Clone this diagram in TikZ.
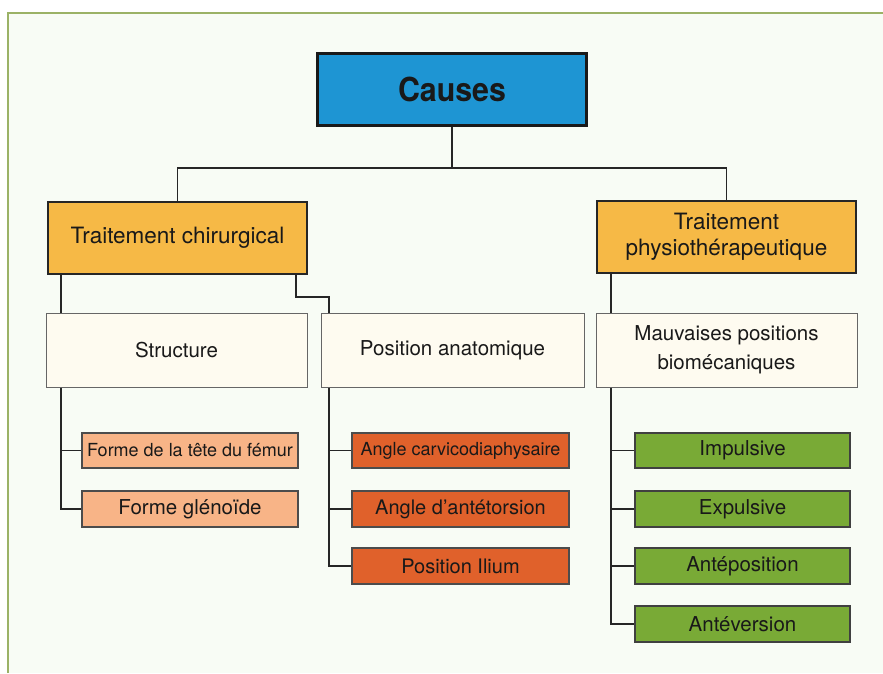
\documentclass[tikz,border=0pt]{standalone}
\usepackage{fontspec}
\setmainfont{TeX Gyre Heros}
\newfontfamily\causefont[FakeStretch=0.92]{TeX Gyre Heros}

\definecolor{causeblue}{HTML}{1E95D3}
\definecolor{headorange}{HTML}{F6B946}
\definecolor{catcream}{HTML}{FEFBF0}
\definecolor{formsalmon}{HTML}{F8B487}
\definecolor{angleorange}{HTML}{E0612B}
\definecolor{mauvgreen}{HTML}{79AA36}
\definecolor{framegreen}{HTML}{9BB266}
\definecolor{pagegreen}{HTML}{F8FCF5}

\begin{document}
\begin{tikzpicture}[x=1pt,y=-1pt,
		every node/.style={inner sep=0pt, align=center, text=black!90},
		link/.style={draw=black!85, line width=1.5pt},
		causebox/.style={draw=black!90, line width=2.5pt, fill=causeblue,
			minimum width=269, minimum height=72, font=\causefont\bfseries\fontsize{33}{36}\selectfont},
		headbox/.style={draw=black!85, line width=2pt, fill=headorange,
			minimum width=259, minimum height=72, font=\fontsize{22.5}{26}\selectfont},
		catbox/.style={draw=black!60, line width=1pt, fill=catcream,
			minimum width=261, minimum height=74, font=\fontsize{20.5}{29}\selectfont},
		formbox/.style={draw=black!70, line width=1.2pt, fill=formsalmon,
			minimum width=216, minimum height=35, font=\fontsize{20.5}{24}\selectfont},
		anglebox/.style={draw=black!70, line width=1.2pt, fill=angleorange,
			minimum width=217, minimum height=35, font=\fontsize{20}{24}\selectfont},
		mauvbox/.style={draw=black!75, line width=1.2pt, fill=mauvgreen,
			minimum width=215, minimum height=35, font=\fontsize{20.5}{24}\selectfont}]
		\useasboundingbox (0,0) rectangle (883,673);
		% page frame
		\fill [pagegreen] (8,13) rectangle (883,673);
		\draw [framegreen, line width=2pt] (8,673) -- (8,13) -- (883,13);
		% boxes
		\node [causebox] (causes) at (452,89.5) {Causes};
		\node [headbox] (chir) at (177.5,238) {Traitement chirurgical};
		\node [headbox] (physio) at (726.5,237) {Traitement\\physiothérapeutique};
		\coordinate (bus) at (452,168);
		\coordinate (kink) at (296,297);
		\coordinate (spineS) at (61,0);
		\coordinate (spineP) at (329,0);
		\coordinate (spineM) at (611,0);
		% connectors behind the lower boxes
		\draw [link] (causes.south) -- (causes.south |- bus);
		\draw [link] (chir.north) |- (bus) -| (physio.north);
		\draw [link] (spineS |- chir.south) -- (spineS |- 0,313);
		\draw [link] (kink |- chir.south) -- (kink) -| (spineP |- 0,313);
		\draw [link] (spineM |- physio.south) -- (spineM |- 0,313);
		\node [catbox] (struct) at (176.5,350) {Structure};
		\node [catbox, minimum width=263] (posi) at (452.5,350) {Position anatomique};
		\node [catbox] (mauv) at (726.5,350) {Mauvaises positions\\biomécaniques};
		\node [formbox] (tete) at (190,450.5) {\fontsize{18}{20}\selectfont Forme de la tête du fémur};
		\node [formbox, minimum height=36] (glen) at (190,509) {Forme glénoïde};
		\node [anglebox] (carvi) at (460.5,450.5) {\fontsize{18}{20}\selectfont Angle carvicodiaphysaire};
		\node [anglebox, minimum height=36] (antet) at (460.5,509) {Angle d’antétorsion};
		\node [anglebox, minimum height=36] (ilium) at (460.5,566) {Position Ilium};
		\node [mauvbox] (impul) at (742.5,450.5) {Impulsive};
		\node [mauvbox, minimum height=36] (expul) at (742.5,509) {Expulsive};
		\node [mauvbox, minimum height=36] (antepo) at (742.5,566) {Antéposition};
		\node [mauvbox, minimum height=36] (antever) at (742.5,624) {Antéversion};
		% spines to the sub-boxes
		\draw [link] (spineS |- struct.south) |- (glen.west);
		\draw [link] (spineS |- tete.west) -- (tete.west);
		\draw [link] (spineP |- posi.south) |- (ilium.west);
		\foreach \sub in {carvi,antet}
			\draw [link] (spineP |- \sub.west) -- (\sub.west);
		\draw [link] (spineM |- mauv.south) |- (antever.west);
		\foreach \sub in {impul,expul,antepo}
			\draw [link] (spineM |- \sub.west) -- (\sub.west);
	\end{tikzpicture}
\end{document}
